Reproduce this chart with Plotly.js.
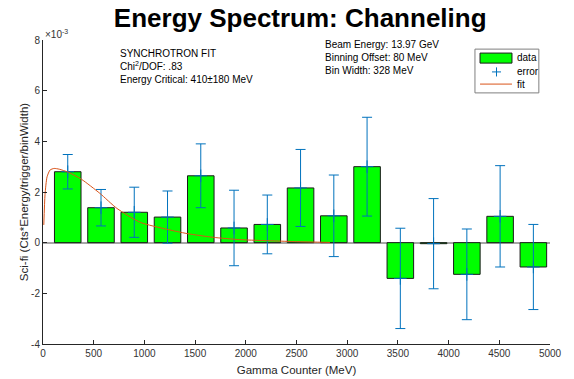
<!DOCTYPE html>
<html>
<head>
<meta charset="utf-8">
<script src="https://cdn.plot.ly/plotly-3.0.1.min.js"></script>
<style>html,body{margin:0;padding:0;background:#fff}#chart{width:574px;height:379px}</style>
</head>
<body>
<div id="chart"></div>
<script>
// Bin centres (MeV): offset 80 MeV, bin width 328 MeV
const binCenters = [244, 572, 900, 1228, 1556, 1884, 2212, 2540, 2868, 3196, 3524, 3852, 4180, 4508, 4836];
// Sci-fi values (x 1e-3)
const values = [2.80, 1.38, 1.20, 1.01, 2.64, 0.58, 0.72, 2.16, 1.06, 3.00, -1.41, -0.04, -1.25, 1.04, -0.96];
// Error half-lengths (x 1e-3)
const errors = [0.68, 0.72, 0.99, 1.03, 1.26, 1.49, 1.16, 1.52, 1.61, 1.95, 1.98, 1.78, 1.79, 2.00, 1.68];
// Synchrotron fit curve
const fitX = [8, 20, 40, 70, 110, 160, 250, 380, 560, 730, 960, 1220, 1420, 1680, 1940, 2270, 2500, 2830];
const fitY = [0.7, 1.9, 2.6, 2.87, 2.93, 2.9, 2.78, 2.5, 1.95, 1.35, 0.8, 0.53, 0.36, 0.21, 0.12, 0.07, 0.04, 0.01];
const xTicks = [0, 500, 1000, 1500, 2000, 2500, 3000, 3500, 4000, 4500, 5000];
const yTicks = [-4, -2, 0, 2, 4, 6, 8];
const legendLabels = ['data', 'error', 'fit'];
const binWidthDrawn = 262;

const FONT = 'Liberation Sans, Arial, Helvetica, sans-serif';
const BLUE = '#0072BD', ORANGE = '#D95319', GREEN = '#00ff00';

const traces = [
  {
    type: 'bar', name: legendLabels[0], x: binCenters, y: values, width: binWidthDrawn,
    marker: {color: GREEN, line: {color: '#1a1a1a', width: 1}}, hoverinfo: 'skip'
  },
  {
    type: 'scatter', mode: 'markers', name: legendLabels[1], x: binCenters, y: values,
    marker: {symbol: 'cross-thin', size: 9, color: BLUE, line: {color: BLUE, width: 1}},
    error_y: {type: 'data', array: errors, visible: true, color: BLUE, thickness: 1, width: 5}
  },
  {
    type: 'scatter', mode: 'lines', name: legendLabels[2], x: fitX, y: fitY,
    line: {color: ORANGE, width: 1, shape: 'spline', smoothing: 0.6}
  }
];

// Legend box drawn in paper coordinates (MATLAB-style compact legend)
const P = 'paper';
const legShapes = [
  {type: 'rect', xref: P, yref: P, x0: 0.852, x1: 0.978, y0: 0.826, y1: 0.970,
   line: {color: '#7f7f7f', width: 1}, fillcolor: '#fff', layer: 'above'},
  {type: 'rect', xref: P, yref: P, x0: 0.862, x1: 0.925, y0: 0.924, y1: 0.957,
   line: {color: '#1a1a1a', width: 1}, fillcolor: GREEN, layer: 'above'},
  {type: 'line', xref: P, yref: P, x0: 0.8856, x1: 0.9034, y0: 0.895, y1: 0.895,
   line: {color: BLUE, width: 1}, layer: 'above'},
  {type: 'line', xref: P, yref: P, x0: 0.8945, x1: 0.8945, y0: 0.880, y1: 0.910,
   line: {color: BLUE, width: 1}, layer: 'above'},
  {type: 'line', xref: P, yref: P, x0: 0.862, x1: 0.925, y0: 0.855, y1: 0.855,
   line: {color: ORANGE, width: 1}, layer: 'above'}
];
const legYs = [0.941, 0.895, 0.855];
const legAnnots = legendLabels.map((t, i) => ({
  xref: P, yref: P, x: 0.931, y: legYs[i], xanchor: 'left', yanchor: 'middle',
  text: t, showarrow: false, font: {size: 10, color: '#000'}
}));

const layout = {
  width: 574, height: 379,
  margin: {l: 43, r: 24, t: 40, b: 35},
  paper_bgcolor: '#fff', plot_bgcolor: '#fff',
  font: {family: FONT, color: '#262626', size: 10},
  title: {text: '<b>Energy Spectrum: Channeling</b>', font: {family: FONT, size: 26, color: '#000'},
          xref: 'container', x: 0.523, xanchor: 'center', yref: 'container', y: 0.953, yanchor: 'middle'},
  showlegend: false,
  xaxis: {
    range: [0, 5000], tickvals: xTicks, ticktext: xTicks.map(String),
    ticks: 'inside', ticklen: 4, tickcolor: '#262626', showline: true, linecolor: '#262626', linewidth: 1,
    showgrid: false, zeroline: false, tickfont: {size: 10, color: '#333'},
    title: {text: 'Gamma Counter (MeV)', font: {size: 11.5, color: '#262626'}, standoff: 7}
  },
  yaxis: {
    range: [-4, 8], tickvals: yTicks, ticktext: yTicks.map(String),
    ticks: 'inside', ticklen: 4, tickcolor: '#262626', showline: true, linecolor: '#262626', linewidth: 1,
    showgrid: false, zeroline: true, zerolinecolor: '#a6a6a6', zerolinewidth: 2,
    tickfont: {size: 10, color: '#333'},
    title: {text: 'Sci-fi (Cts*Energy/trigger/binWidth)', font: {size: 11.5, color: '#262626'}, standoff: 0}
  },
  shapes: legShapes,
  annotations: [
    {xref: P, yref: P, x: 0, y: 1, xanchor: 'left', yanchor: 'bottom', yshift: -2,
     text: '×10<sup>-3</sup>', showarrow: false, font: {size: 10, color: '#333'}},
    {xref: P, yref: P, x: 0.148, y: 0.98, xanchor: 'left', yanchor: 'top', align: 'left',
     text: 'SYNCHROTRON FIT<br>Chi<sup>2</sup>/DOF: .83<br>Energy Critical: 410±180 MeV',
     showarrow: false, font: {size: 10, color: '#000'}},
    {xref: P, yref: P, x: 0.552, y: 1.01, xanchor: 'left', yanchor: 'top', align: 'left',
     text: 'Beam Energy: 13.97 GeV<br>Binning Offset: 80 MeV<br>Bin Width: 328 MeV',
     showarrow: false, font: {size: 10, color: '#000'}}
  ].concat(legAnnots)
};

Plotly.newPlot('chart', traces, layout, {displayModeBar: false, staticPlot: true});
</script>
</body>
</html>
